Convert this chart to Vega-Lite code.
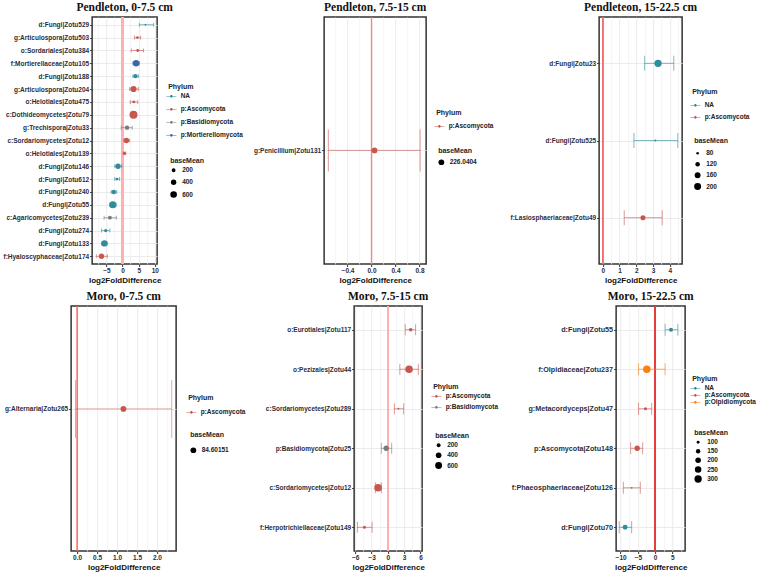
{
"$schema": "https://vega.github.io/schema/vega-lite/v6.json",
"padding": {"left": 2, "top": 0, "right": 0, "bottom": 0},
"background": "white",
"config": {
 "view": {"stroke": "#333333", "strokeWidth": 1.5},
 "font": "Liberation Sans",
 "axis": {"labelFont": "Liberation Sans", "labelFontWeight": "bold", "labelFontSize": 6.5, "labelColor": "#2d2d3a", "titleFont": "Liberation Sans", "titleFontWeight": "bold", "titleFontSize": 8, "titleColor": "#111111", "domain": false, "tickColor": "#333333", "tickSize": 2.5, "labelPadding": 1, "gridColor": "#e6e6e6", "gridWidth": 0.8, "titlePadding": 2, "labelOverlap": false, "labelFlush": false},
 "title": {"font": "Liberation Serif", "fontWeight": "bold", "fontSize": 11.5, "color": "#111111", "offset": 3, "anchor": "middle"},
 "legend": {"titleFont": "Liberation Sans", "titleFontWeight": "bold", "titleFontSize": 7, "titleColor": "#222222", "labelFont": "Liberation Sans", "labelFontWeight": "bold", "labelFontSize": 6.5, "labelColor": "#222222", "titlePadding": 3, "symbolStrokeWidth": 0, "orient": "none"}
},
"center": true,
"spacing": 4,
"resolve": {"scale": {"color": "independent", "size": "independent"}, "legend": {"color": "independent", "size": "independent"}},
"vconcat": [
{"hconcat": [
{
 "title": "Pendleton, 0-7.5 cm",
 "width": 65, "height": 247,
 "data": {"values": [
  {"taxon": "d:Fungi|Zotu529", "phylum": "NA", "lfc": 7.1, "lo": 5.2, "hi": 9.6, "baseMean": 36},
  {"taxon": "g:Articulospora|Zotu503", "phylum": "p:Ascomycota", "lfc": 4.6, "lo": 3.7, "hi": 5.6, "baseMean": 91},
  {"taxon": "o:Sordariales|Zotu384", "phylum": "p:Ascomycota", "lfc": 4.7, "lo": 2.7, "hi": 6.5, "baseMean": 110},
  {"taxon": "f:Mortierellaceae|Zotu105", "phylum": "p:Mortierellomycota", "lfc": 4.2, "lo": 3.2, "hi": 5.2, "baseMean": 560},
  {"taxon": "d:Fungi|Zotu188", "phylum": "NA", "lfc": 4.0, "lo": 3.2, "hi": 4.9, "baseMean": 240},
  {"taxon": "g:Articulospora|Zotu204", "phylum": "p:Ascomycota", "lfc": 3.4, "lo": 2.2, "hi": 4.9, "baseMean": 520},
  {"taxon": "o:Helotiales|Zotu475", "phylum": "p:Ascomycota", "lfc": 3.5, "lo": 2.4, "hi": 4.7, "baseMean": 91},
  {"taxon": "c:Dothideomycetes|Zotu79", "phylum": "p:Ascomycota", "lfc": 3.4, "lo": 2.5, "hi": 4.3, "baseMean": 880},
  {"taxon": "g:Trechispora|Zotu33", "phylum": "p:Basidiomycota", "lfc": 1.4, "lo": -0.4, "hi": 3.0, "baseMean": 266},
  {"taxon": "c:Sordariomycetes|Zotu12", "phylum": "p:Ascomycota", "lfc": 1.2, "lo": 0.4, "hi": 2.2, "baseMean": 387},
  {"taxon": "o:Helotiales|Zotu139", "phylum": "p:Ascomycota", "lfc": 0.6, "lo": 0.2, "hi": 1.0, "baseMean": 126},
  {"taxon": "d:Fungi|Zotu146", "phylum": "NA", "lfc": -1.4, "lo": -2.4, "hi": -0.2, "baseMean": 387},
  {"taxon": "d:Fungi|Zotu612", "phylum": "NA", "lfc": -1.7, "lo": -2.4, "hi": -0.9, "baseMean": 91},
  {"taxon": "d:Fungi|Zotu240", "phylum": "NA", "lfc": -2.7, "lo": -3.5, "hi": -1.8, "baseMean": 266},
  {"taxon": "d:Fungi|Zotu55", "phylum": "NA", "lfc": -3.0, "lo": -4.0, "hi": -2.0, "baseMean": 695},
  {"taxon": "c:Agaricomycetes|Zotu239", "phylum": "p:Basidiomycota", "lfc": -3.9, "lo": -5.7, "hi": -1.9, "baseMean": 200},
  {"taxon": "d:Fungi|Zotu274", "phylum": "NA", "lfc": -5.2, "lo": -6.5, "hi": -3.9, "baseMean": 140},
  {"taxon": "d:Fungi|Zotu133", "phylum": "NA", "lfc": -5.6, "lo": -6.5, "hi": -4.7, "baseMean": 530},
  {"taxon": "f:Hyaloscyphaceae|Zotu174", "phylum": "p:Ascomycota", "lfc": -6.5, "lo": -8.1, "hi": -4.7, "baseMean": 387}
 ]},
 "resolve": {"legend": {"color": "independent"}, "axis": {"x": "independent"}},
 "layer": [
  {"mark": {"type": "rule", "color": "#ffb0b0", "strokeWidth": 1.6}, "encoding": {"x": {"datum": 0, "type": "quantitative", "axis": {"orient": "top", "grid": true, "gridColor": "#f2f2f2", "labels": false, "ticks": false, "domain": false, "title": null, "values": [-7.5, -2.5, 2.5, 7.5]}}}},
  {"mark": {"type": "rule", "strokeWidth": 1, "opacity": 0.6},
   "encoding": {
    "y": {"field": "taxon", "type": "nominal", "sort": null, "title": null, "scale": {"type": "point", "padding": 0.6}, "axis": {"grid": true}},
    "x": {"field": "lo", "type": "quantitative", "title": "log2FoldDifference", "scale": {"domain": [-9.4, 10.7], "nice": false, "zero": false},
      "axis": {"grid": true, "labelOverlap": false, "values": [-5, 0, 5, 10], "format": "d"}},
    "x2": {"field": "hi"},
    "color": {"field": "phylum", "type": "nominal", "legend": null, "scale": {"domain": ["NA", "p:Ascomycota", "p:Basidiomycota", "p:Mortierellomycota"], "range": ["#2f8c9c", "#c8564f", "#7a7a7e", "#3b68a5"]}}}},
  {"mark": {"type": "tick", "size": 4, "thickness": 1, "opacity": 0.6},
   "encoding": {"y": {"field": "taxon", "type": "nominal", "sort": null, "title": null}, "x": {"field": "lo", "type": "quantitative", "axis": null}, "color": {"field": "phylum", "type": "nominal", "legend": null}}},
  {"mark": {"type": "tick", "size": 4, "thickness": 1, "opacity": 0.6},
   "encoding": {"y": {"field": "taxon", "type": "nominal", "sort": null, "title": null}, "x": {"field": "hi", "type": "quantitative", "axis": null}, "color": {"field": "phylum", "type": "nominal", "legend": null}}},
  {"mark": {"type": "circle", "opacity": 1},
   "encoding": {"y": {"field": "taxon", "type": "nominal", "sort": null, "title": null}, "x": {"field": "lfc", "type": "quantitative", "axis": null},
    "color": {"field": "phylum", "type": "nominal", "legend": {"title": "Phylum", "orient": "none", "legendX": 76, "legendY": 66, "symbolType": "M-2,-0.12L-0.5,-0.12L-0.5,0.12L-2,0.12ZM0.5,-0.12L2,-0.12L2,0.12L0.5,0.12ZM-0.55,0A0.55,0.55,0,1,0,0.55,0A0.55,0.55,0,1,0,-0.55,0Z", "symbolSize": 25, "rowPadding": 6, "labelOffset": 6}},
    "size": {"field": "baseMean", "type": "quantitative", "scale": {"domain": [20, 900], "range": [2, 65], "zero": false}, "legend": {"title": "baseMean", "orient": "none", "legendX": 78, "legendY": 140, "values": [200, 400, 600], "format": "d", "symbolFillColor": "black", "symbolType": "circle", "rowPadding": 5, "labelOffset": 5}}}}
 ]
},
{
 "title": "Pendleton, 7.5-15 cm",
 "width": 102, "height": 247,
 "data": {"values": [
  {"taxon": "g:Penicillium|Zotu131", "phylum": "p:Ascomycota", "lfc": 0.05, "lo": -0.72, "hi": 0.81, "baseMean": 226.0404}
 ]},
 "resolve": {"legend": {"color": "independent"}, "axis": {"x": "independent"}},
 "layer": [
  {"mark": {"type": "rule", "color": "#f08888", "strokeWidth": 1.4}, "encoding": {"x": {"datum": 0, "type": "quantitative", "axis": {"orient": "top", "grid": true, "gridColor": "#f2f2f2", "labels": false, "ticks": false, "domain": false, "title": null, "values": [-0.6, -0.2, 0.2, 0.6]}}}},
  {"mark": {"type": "rule", "strokeWidth": 1, "opacity": 0.6},
   "encoding": {
    "y": {"field": "taxon", "type": "nominal", "sort": null, "title": null, "scale": {"type": "point", "padding": 0.6, "align": 0.54}, "axis": {"grid": true}},
    "x": {"field": "lo", "type": "quantitative", "title": "log2FoldDifference", "scale": {"domain": [-0.79, 0.91], "nice": false, "zero": false},
      "axis": {"grid": true, "labelOverlap": false, "values": [-0.4, 0, 0.4, 0.8], "format": ".1f"}},
    "x2": {"field": "hi"},
    "color": {"field": "phylum", "type": "nominal", "legend": null, "scale": {"domain": ["p:Ascomycota"], "range": ["#c8564f"]}}}},
  {"mark": {"type": "tick", "size": 42, "thickness": 1, "opacity": 0.6},
   "encoding": {"y": {"field": "taxon", "type": "nominal", "sort": null, "title": null}, "x": {"field": "lo", "type": "quantitative", "axis": null}, "color": {"field": "phylum", "type": "nominal", "legend": null}}},
  {"mark": {"type": "tick", "size": 42, "thickness": 1, "opacity": 0.6},
   "encoding": {"y": {"field": "taxon", "type": "nominal", "sort": null, "title": null}, "x": {"field": "hi", "type": "quantitative", "axis": null}, "color": {"field": "phylum", "type": "nominal", "legend": null}}},
  {"mark": {"type": "circle", "opacity": 1},
   "encoding": {"y": {"field": "taxon", "type": "nominal", "sort": null, "title": null}, "x": {"field": "lfc", "type": "quantitative", "axis": null},
    "color": {"field": "phylum", "type": "nominal", "legend": {"title": "Phylum", "orient": "none", "legendX": 106, "legendY": 86, "padding": 6, "titlePadding": 7, "symbolType": "M-2,-0.12L-0.5,-0.12L-0.5,0.12L-2,0.12ZM0.5,-0.12L2,-0.12L2,0.12L0.5,0.12ZM-0.55,0A0.55,0.55,0,1,0,0.55,0A0.55,0.55,0,1,0,-0.55,0Z", "symbolSize": 25, "rowPadding": 5, "labelOffset": 6}},
    "size": {"field": "baseMean", "type": "quantitative", "scale": {"domain": [0, 452.08], "range": [0, 66], "zero": false}, "legend": {"title": "baseMean", "orient": "none", "legendX": 114, "legendY": 130, "titlePadding": 5, "values": [226.0404], "format": ".4f", "symbolFillColor": "black", "symbolType": "circle", "rowPadding": 3, "labelOffset": 5}}}}
 ]
},
{
 "title": "Pendleteon, 15-22.5 cm",
 "width": 83, "height": 247,
 "data": {"values": [
  {"taxon": "d:Fungi|Zotu23", "phylum": "NA", "lfc": 3.3, "lo": 2.5, "hi": 4.24, "baseMean": 215},
  {"taxon": "d:Fungi|Zotu525", "phylum": "NA", "lfc": 3.14, "lo": 1.86, "hi": 4.48, "baseMean": 72},
  {"taxon": "f:Lasiosphaeriaceae|Zotu49", "phylum": "p:Ascomycota", "lfc": 2.4, "lo": 1.28, "hi": 3.55, "baseMean": 135}
 ]},
 "resolve": {"legend": {"color": "independent"}, "axis": {"x": "independent"}},
 "layer": [
  {"mark": {"type": "rule", "color": "#f07070", "strokeWidth": 1.4}, "encoding": {"x": {"datum": 0, "type": "quantitative", "axis": {"orient": "top", "grid": true, "gridColor": "#f2f2f2", "labels": false, "ticks": false, "domain": false, "title": null, "values": [0.5, 1.5, 2.5, 3.5, 4.5]}}}},
  {"mark": {"type": "rule", "strokeWidth": 1, "opacity": 0.6},
   "encoding": {
    "y": {"field": "taxon", "type": "nominal", "sort": null, "title": null, "scale": {"type": "point", "padding": 0.6}, "axis": {"grid": true}},
    "x": {"field": "lo", "type": "quantitative", "title": "log2FoldDifference", "scale": {"domain": [-0.22, 4.74], "nice": false, "zero": false},
      "axis": {"grid": true, "labelOverlap": false, "values": [0, 1, 2, 3, 4], "format": "d"}},
    "x2": {"field": "hi"},
    "color": {"field": "phylum", "type": "nominal", "legend": null, "scale": {"domain": ["NA", "p:Ascomycota"], "range": ["#2f8c9c", "#c8564f"]}}}},
  {"mark": {"type": "tick", "size": 15, "thickness": 1, "opacity": 0.6},
   "encoding": {"y": {"field": "taxon", "type": "nominal", "sort": null, "title": null}, "x": {"field": "lo", "type": "quantitative", "axis": null}, "color": {"field": "phylum", "type": "nominal", "legend": null}}},
  {"mark": {"type": "tick", "size": 15, "thickness": 1, "opacity": 0.6},
   "encoding": {"y": {"field": "taxon", "type": "nominal", "sort": null, "title": null}, "x": {"field": "hi", "type": "quantitative", "axis": null}, "color": {"field": "phylum", "type": "nominal", "legend": null}}},
  {"mark": {"type": "circle", "opacity": 1},
   "encoding": {"y": {"field": "taxon", "type": "nominal", "sort": null, "title": null}, "x": {"field": "lfc", "type": "quantitative", "axis": null},
    "color": {"field": "phylum", "type": "nominal", "legend": {"title": "Phylum", "orient": "none", "legendX": 93, "legendY": 71, "titlePadding": 7, "symbolType": "M-2,-0.12L-0.5,-0.12L-0.5,0.12L-2,0.12ZM0.5,-0.12L2,-0.12L2,0.12L0.5,0.12ZM-0.55,0A0.55,0.55,0,1,0,0.55,0A0.55,0.55,0,1,0,-0.55,0Z", "symbolSize": 25, "rowPadding": 5, "labelOffset": 6}},
    "size": {"field": "baseMean", "type": "quantitative", "scale": {"domain": [65, 220], "range": [1.5, 55], "zero": false}, "legend": {"title": "baseMean", "orient": "none", "legendX": 95, "legendY": 120, "titlePadding": 6, "values": [80, 120, 160, 200], "format": "d", "symbolFillColor": "black", "symbolType": "circle", "rowPadding": 4, "labelOffset": 5}}}}
 ]
}
], "spacing": 8, "resolve": {"scale": {"color": "independent", "size": "independent"}, "legend": {"color": "independent", "size": "independent"}}},
{"hconcat": [
{
 "title": "Moro, 0-7.5 cm",
 "width": 105, "height": 245,
 "data": {"values": [
  {"taxon": "g:Alternaria|Zotu265", "phylum": "p:Ascomycota", "lfc": 1.16, "lo": -0.04, "hi": 2.37, "baseMean": 84.60151}
 ]},
 "resolve": {"legend": {"color": "independent"}, "axis": {"x": "independent"}},
 "layer": [
  {"mark": {"type": "rule", "color": "#ff5a5a", "strokeWidth": 1.4}, "encoding": {"x": {"datum": 0, "type": "quantitative", "axis": {"orient": "top", "grid": true, "gridColor": "#f2f2f2", "labels": false, "ticks": false, "domain": false, "title": null, "values": [0.25, 0.75, 1.25, 1.75, 2.25]}}}},
  {"mark": {"type": "rule", "strokeWidth": 1, "opacity": 0.5},
   "encoding": {
    "y": {"field": "taxon", "type": "nominal", "sort": null, "title": null, "scale": {"type": "point", "padding": 0.6, "align": 0.42}, "axis": {"grid": true}},
    "x": {"field": "lo", "type": "quantitative", "title": "log2FoldDifference", "scale": {"domain": [-0.15, 2.48], "nice": false, "zero": false},
      "axis": {"grid": true, "labelOverlap": false, "values": [0, 0.5, 1, 1.5, 2], "format": ".1f"}},
    "x2": {"field": "hi"},
    "color": {"field": "phylum", "type": "nominal", "legend": null, "scale": {"domain": ["p:Ascomycota"], "range": ["#c8564f"]}}}},
  {"mark": {"type": "tick", "size": 58, "thickness": 1, "opacity": 0.5},
   "encoding": {"y": {"field": "taxon", "type": "nominal", "sort": null, "title": null}, "x": {"field": "lo", "type": "quantitative", "axis": null}, "color": {"field": "phylum", "type": "nominal", "legend": null}}},
  {"mark": {"type": "tick", "size": 58, "thickness": 1, "opacity": 0.5},
   "encoding": {"y": {"field": "taxon", "type": "nominal", "sort": null, "title": null}, "x": {"field": "hi", "type": "quantitative", "axis": null}, "color": {"field": "phylum", "type": "nominal", "legend": null}}},
  {"mark": {"type": "circle", "opacity": 1},
   "encoding": {"y": {"field": "taxon", "type": "nominal", "sort": null, "title": null}, "x": {"field": "lfc", "type": "quantitative", "axis": null},
    "color": {"field": "phylum", "type": "nominal", "legend": {"title": "Phylum", "orient": "none", "legendX": 117, "legendY": 88, "titlePadding": 8, "symbolType": "M-2,-0.12L-0.5,-0.12L-0.5,0.12L-2,0.12ZM0.5,-0.12L2,-0.12L2,0.12L0.5,0.12ZM-0.55,0A0.55,0.55,0,1,0,0.55,0A0.55,0.55,0,1,0,-0.55,0Z", "symbolSize": 25, "rowPadding": 5, "labelOffset": 6}},
    "size": {"field": "baseMean", "type": "quantitative", "scale": {"domain": [0, 169.2], "range": [0, 66], "zero": false}, "legend": {"title": "baseMean", "orient": "none", "legendX": 119, "legendY": 125, "titlePadding": 9, "values": [84.60151], "format": ".5f", "symbolFillColor": "black", "symbolType": "circle", "rowPadding": 3, "labelOffset": 5}}}}
 ]
},
{
 "title": "Moro, 7.5-15 cm",
 "width": 68, "height": 245,
 "data": {"values": [
  {"taxon": "o:Eurotiales|Zotu117", "phylum": "p:Ascomycota", "lfc": 4.2, "lo": 3.2, "hi": 5.1, "baseMean": 169},
  {"taxon": "o:Pezizales|Zotu44", "phylum": "p:Ascomycota", "lfc": 3.9, "lo": 2.2, "hi": 5.6, "baseMean": 720},
  {"taxon": "c:Sordariomycetes|Zotu289", "phylum": "p:Ascomycota", "lfc": 1.95, "lo": 1.2, "hi": 2.9, "baseMean": 53},
  {"taxon": "p:Basidiomycota|Zotu25", "phylum": "p:Basidiomycota", "lfc": -0.3, "lo": -1.2, "hi": 0.7, "baseMean": 360},
  {"taxon": "c:Sordariomycetes|Zotu12", "phylum": "p:Ascomycota", "lfc": -1.8, "lo": -2.3, "hi": -1.2, "baseMean": 705},
  {"taxon": "f:Herpotrichiellaceae|Zotu149", "phylum": "p:Ascomycota", "lfc": -4.3, "lo": -5.6, "hi": -2.9, "baseMean": 129}
 ]},
 "resolve": {"legend": {"color": "independent"}, "axis": {"x": "independent"}},
 "layer": [
  {"mark": {"type": "rule", "color": "#ffb0b0", "strokeWidth": 1.6}, "encoding": {"x": {"datum": 0, "type": "quantitative", "axis": {"orient": "top", "grid": true, "gridColor": "#f2f2f2", "labels": false, "ticks": false, "domain": false, "title": null, "values": [-4.5, -1.5, 1.5, 4.5]}}}},
  {"mark": {"type": "rule", "strokeWidth": 1, "opacity": 0.6},
   "encoding": {
    "y": {"field": "taxon", "type": "nominal", "sort": null, "title": null, "scale": {"type": "point", "padding": 0.6}, "axis": {"grid": true}},
    "x": {"field": "lo", "type": "quantitative", "title": "log2FoldDifference", "scale": {"domain": [-6.2, 6.3], "nice": false, "zero": false},
      "axis": {"grid": true, "labelOverlap": false, "values": [-6, -3, 0, 3, 6], "format": "d"}},
    "x2": {"field": "hi"},
    "color": {"field": "phylum", "type": "nominal", "legend": null, "scale": {"domain": ["p:Ascomycota", "p:Basidiomycota"], "range": ["#c8564f", "#7a7a7e"]}}}},
  {"mark": {"type": "tick", "size": 11, "thickness": 1, "opacity": 0.6},
   "encoding": {"y": {"field": "taxon", "type": "nominal", "sort": null, "title": null}, "x": {"field": "lo", "type": "quantitative", "axis": null}, "color": {"field": "phylum", "type": "nominal", "legend": null}}},
  {"mark": {"type": "tick", "size": 11, "thickness": 1, "opacity": 0.6},
   "encoding": {"y": {"field": "taxon", "type": "nominal", "sort": null, "title": null}, "x": {"field": "hi", "type": "quantitative", "axis": null}, "color": {"field": "phylum", "type": "nominal", "legend": null}}},
  {"mark": {"type": "circle", "opacity": 1},
   "encoding": {"y": {"field": "taxon", "type": "nominal", "sort": null, "title": null}, "x": {"field": "lfc", "type": "quantitative", "axis": null},
    "color": {"field": "phylum", "type": "nominal", "legend": {"title": "Phylum", "orient": "none", "legendX": 79, "legendY": 77, "symbolType": "M-2,-0.12L-0.5,-0.12L-0.5,0.12L-2,0.12ZM0.5,-0.12L2,-0.12L2,0.12L0.5,0.12ZM-0.55,0A0.55,0.55,0,1,0,0.55,0A0.55,0.55,0,1,0,-0.55,0Z", "symbolSize": 25, "rowPadding": 4, "labelOffset": 6}},
    "size": {"field": "baseMean", "type": "quantitative", "scale": {"domain": [40, 720], "range": [2, 58], "zero": false}, "legend": {"title": "baseMean", "orient": "none", "legendX": 81, "legendY": 126, "values": [200, 400, 600], "format": "d", "symbolFillColor": "black", "symbolType": "circle", "rowPadding": 3, "labelOffset": 5}}}}
 ]
},
{
 "title": "Moro, 15-22.5 cm",
 "width": 69, "height": 245,
 "data": {"values": [
  {"taxon": "d:Fungi|Zotu55", "phylum": "NA", "lfc": 4.6, "lo": 2.9, "hi": 6.6, "baseMean": 134},
  {"taxon": "f:Olpidiaceae|Zotu237", "phylum": "p:Olpidiomycota", "lfc": -2.4, "lo": -4.8, "hi": 2.9, "baseMean": 310},
  {"taxon": "g:Metacordyceps|Zotu47", "phylum": "p:Ascomycota", "lfc": -2.8, "lo": -4.8, "hi": -1.0, "baseMean": 106},
  {"taxon": "p:Ascomycota|Zotu148", "phylum": "p:Ascomycota", "lfc": -5.2, "lo": -7.1, "hi": -3.6, "baseMean": 189},
  {"taxon": "f:Phaeosphaeriaceae|Zotu126", "phylum": "p:Ascomycota", "lfc": -6.8, "lo": -9.2, "hi": -4.3, "baseMean": 77},
  {"taxon": "d:Fungi|Zotu70", "phylum": "NA", "lfc": -8.7, "lo": -10.4, "hi": -6.8, "baseMean": 169}
 ]},
 "resolve": {"legend": {"color": "independent"}, "axis": {"x": "independent"}},
 "layer": [
  {"mark": {"type": "rule", "color": "#e83c3c", "strokeWidth": 1.3}, "encoding": {"x": {"datum": 0, "type": "quantitative", "axis": {"orient": "top", "grid": true, "gridColor": "#f2f2f2", "labels": false, "ticks": false, "domain": false, "title": null, "values": [-7.5, -2.5, 2.5, 7.5]}}}},
  {"mark": {"type": "rule", "strokeWidth": 1, "opacity": 0.6},
   "encoding": {
    "y": {"field": "taxon", "type": "nominal", "sort": null, "title": null, "scale": {"type": "point", "padding": 0.6}, "axis": {"grid": true, "labelFontSize": 7.2}},
    "x": {"field": "lo", "type": "quantitative", "title": "log2FoldDifference", "scale": {"domain": [-11.3, 8.7], "nice": false, "zero": false},
      "axis": {"grid": true, "labelOverlap": false, "values": [-10, -5, 0, 5], "format": "d"}},
    "x2": {"field": "hi"},
    "color": {"field": "phylum", "type": "nominal", "legend": null, "scale": {"domain": ["NA", "p:Ascomycota", "p:Olpidiomycota"], "range": ["#2f8c9c", "#c8564f", "#f7820f"]}}}},
  {"mark": {"type": "tick", "size": 12, "thickness": 1, "opacity": 0.6},
   "encoding": {"y": {"field": "taxon", "type": "nominal", "sort": null, "title": null}, "x": {"field": "lo", "type": "quantitative", "axis": null}, "color": {"field": "phylum", "type": "nominal", "legend": null}}},
  {"mark": {"type": "tick", "size": 12, "thickness": 1, "opacity": 0.6},
   "encoding": {"y": {"field": "taxon", "type": "nominal", "sort": null, "title": null}, "x": {"field": "hi", "type": "quantitative", "axis": null}, "color": {"field": "phylum", "type": "nominal", "legend": null}}},
  {"mark": {"type": "circle", "opacity": 1},
   "encoding": {"y": {"field": "taxon", "type": "nominal", "sort": null, "title": null}, "x": {"field": "lfc", "type": "quantitative", "axis": null},
    "color": {"field": "phylum", "type": "nominal", "legend": {"title": "Phylum", "orient": "none", "legendX": 61, "legendY": 54, "padding": 15, "symbolType": "M-2,-0.12L-0.5,-0.12L-0.5,0.12L-2,0.12ZM0.5,-0.12L2,-0.12L2,0.12L0.5,0.12ZM-0.55,0A0.55,0.55,0,1,0,0.55,0A0.55,0.55,0,1,0,-0.55,0Z", "symbolSize": 25, "rowPadding": 0, "labelOffset": 6}},
    "size": {"field": "baseMean", "type": "quantitative", "scale": {"domain": [70, 320], "range": [1.5, 58], "zero": false}, "legend": {"title": "baseMean", "orient": "none", "legendX": 78, "legendY": 123, "values": [100, 150, 200, 250, 300], "format": "d", "symbolFillColor": "black", "symbolType": "circle", "rowPadding": 2, "labelOffset": 5}}}}
 ]
}
], "spacing": 11, "resolve": {"scale": {"color": "independent", "size": "independent"}, "legend": {"color": "independent", "size": "independent"}}}
]
}
